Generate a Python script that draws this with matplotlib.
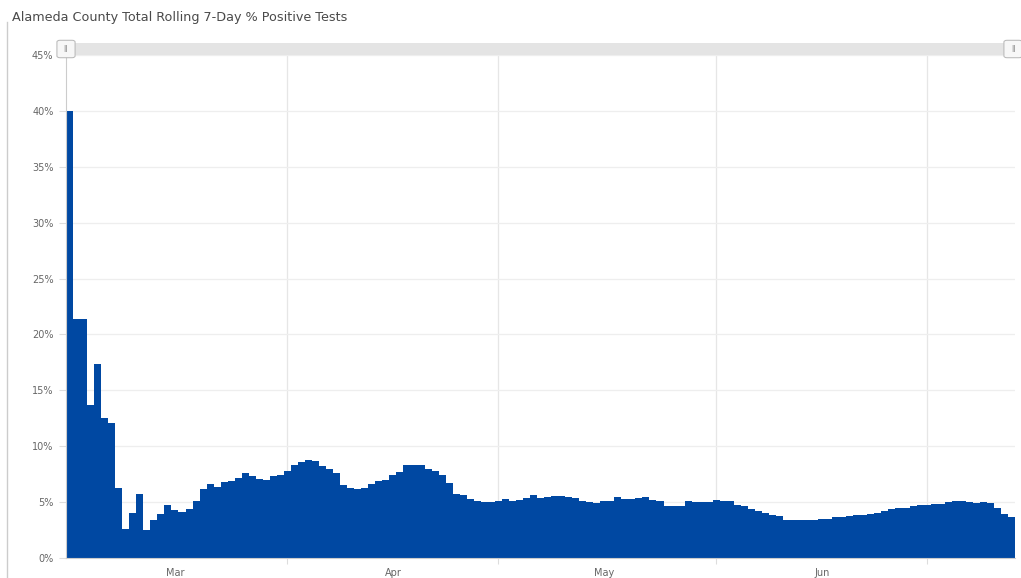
import pandas as pd
import matplotlib.pyplot as plt
from matplotlib.patches import Rectangle, FancyBboxPatch
from matplotlib.lines import Line2D

# dados (% positivos, media movel de 7 dias, um valor por dia)
inicio = '2020-03-01'
positivos = [
    40.0, 21.4, 21.4, 13.7, 17.4, 12.5, 12.1, 6.3, 2.6, 4.0,
    5.75, 2.5, 3.4, 3.9, 4.7, 4.3, 4.1, 4.4, 5.1, 6.2,
    6.6, 6.35, 6.8, 6.85, 7.2, 7.6, 7.3, 7.1, 7.0, 7.3,
    7.45, 7.75, 8.35, 8.6, 8.75, 8.65, 8.25, 7.95, 7.6, 6.5,
    6.3, 6.2, 6.25, 6.6, 6.85, 6.95, 7.45, 7.7, 8.3, 8.3,
    8.3, 8.0, 7.8, 7.45, 6.75, 5.7, 5.6, 5.3, 5.07, 5.0,
    5.0, 5.12, 5.3, 5.12, 5.2, 5.36, 5.66, 5.36, 5.46, 5.57,
    5.55, 5.45, 5.36, 5.07, 4.97, 4.92, 5.07, 5.12, 5.46, 5.27,
    5.27, 5.36, 5.46, 5.21, 5.07, 4.62, 4.68, 4.68, 5.07, 5.0,
    5.0, 5.0, 5.21, 5.07, 5.07, 4.77, 4.62, 4.41, 4.23, 4.0,
    3.87, 3.73, 3.43, 3.37, 3.37, 3.37, 3.43, 3.52, 3.52, 3.67,
    3.7, 3.78, 3.87, 3.81, 3.96, 4.02, 4.17, 4.38, 4.47, 4.47,
    4.62, 4.71, 4.77, 4.83, 4.86, 4.97, 5.07, 5.07, 5.0, 4.92,
    5.04, 4.92, 4.45, 3.95, 3.65,
]
datas = pd.date_range(inicio, periods=len(positivos), freq='D')
meses = ['Mar', 'Apr', 'May', 'Jun']
inicio_meses = pd.to_datetime(['2020-04-01', '2020-05-01', '2020-06-01', '2020-07-01'])
meio_meses = pd.to_datetime(['2020-03-16', '2020-04-16', '2020-05-16', '2020-06-16'])
y_ticks = list(range(0, 50, 5))

azul = '#0048a2'
cinza_txt = '#666666'

fig = plt.figure(figsize=(10.21, 5.78), dpi=100)
ax = fig.add_axes([66 / 1021, 1 - 558 / 578, (1015 - 66) / 1021, (558 - 55) / 578])

ax.bar(datas, positivos, width=1.0, color=azul, linewidth=0, align='center')

ax.set_xlim(datas[0] - pd.Timedelta(hours=12), datas[-1] + pd.Timedelta(hours=12))
ax.set_ylim(0, 45)

# grade vertical no inicio de cada mes, rotulos no meio
ax.set_xticks(inicio_meses)
ax.set_xticklabels([''] * len(inicio_meses))
ax.set_xticks(meio_meses, minor=True)
ax.set_xticklabels(meses, minor=True)
ax.tick_params(axis='x', which='minor', length=0, labelsize=7, colors=cinza_txt, pad=7)
ax.tick_params(axis='x', which='major', length=4, color='#dddddd')
ax.grid(axis='x', which='major', color='#e6e6e6', linewidth=0.9)

ax.set_yticks(y_ticks)
ax.set_yticklabels([f'{v}%' for v in y_ticks])
ax.tick_params(axis='y', length=5, color='#dddddd', labelsize=7, colors=cinza_txt, pad=4)
ax.grid(axis='y', color='#eeeeee', linewidth=0.9)
ax.set_axisbelow(True)

for lado in ['top', 'right']:
    ax.spines[lado].set_visible(False)
ax.spines['left'].set_color('#cccccc')
ax.spines['bottom'].set_color('#cccccc')

# barra de navegacao cinza no topo
fig.patches.append(Rectangle((66 / 1021, 1 - 55 / 578), (1015 - 66) / 1021, 12 / 578,
                             transform=fig.transFigure, facecolor='#e4e4e4',
                             edgecolor='none', zorder=0))
for xh in [66, 1013]:
    fig.patches.append(FancyBboxPatch((xh / 1021 - 6 / 1021, 1 - 56 / 578), 12 / 1021, 14 / 578,
                                      boxstyle='round,pad=0.003', transform=fig.transFigure,
                                      facecolor='#f7f7f7', edgecolor='#b5b5b5', linewidth=0.7))
    fig.text(xh / 1021, 1 - 49 / 578, 'II', fontsize=5.5, color='#888888',
             ha='center', va='center')

# borda esquerda
fig.add_artist(Line2D([7 / 1021, 7 / 1021], [0, 1 - 22 / 578], transform=fig.transFigure,
                      color='#cccccc', linewidth=1))

fig.text(12 / 1021, 1 - 17 / 578, 'Alameda County Total Rolling 7-Day % Positive Tests',
         fontsize=9.2, color='#4a4a4a', ha='left', va='center')

fig.savefig('out.png', dpi=100)
